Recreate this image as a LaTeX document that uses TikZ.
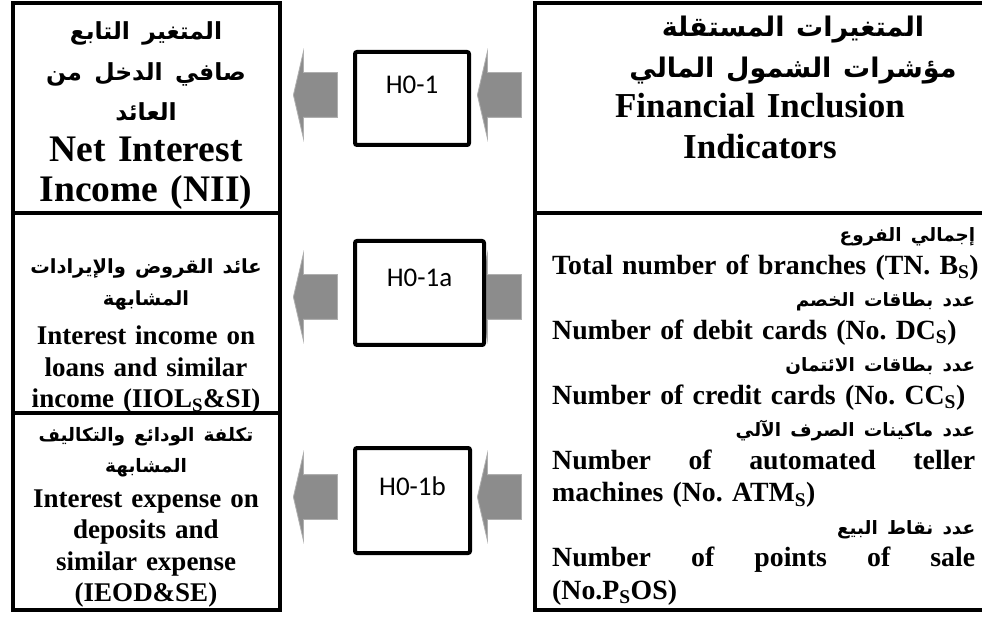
\documentclass[tikz,border=0pt]{standalone}
\usepackage{fontspec}
\setmainfont{Liberation Serif}
\newfontfamily\arabicfont[Script=Arabic]{DejaVu Sans}
\newfontfamily\hfont{Carlito}
\TeXXeTstate=1
\usetikzlibrary{shapes.arrows}
\definecolor{arrowgray}{RGB}{140,140,140}
\definecolor{arrowedge}{RGB}{175,175,175}
\newcommand{\arsize}{20}
\newcommand{\artext}[1]{{\arabicfont\fontsize{\arsize}{12}\selectfont\beginR #1\endR}}

\begin{document}
\begin{tikzpicture}[x=1pt,y=-1pt,
  boxline/.style={line width=4pt},
  hbox/.style={draw,fill=white,line width=4pt,rounded corners=2pt,inner sep=0pt,anchor=north west,font=\hfont\fontsize{27}{30}\selectfont},
  blockarrow/.style={single arrow,shape border rotate=180,fill=arrowgray,draw=arrowedge,line width=0.8pt,inner sep=0pt,text height=22pt,text depth=22pt,minimum height=44pt,minimum width=86pt,single arrow head extend=21pt,single arrow tip angle=154,anchor=tip},
  bigtext/.style 2 args={font=\bfseries\frenchspacing\fontsize{#1}{40.5}\selectfont\renewcommand{\arsize}{#2},align=center,text width=420pt,inner sep=0pt,anchor=base},
  smalltext/.style={font=\bfseries\frenchspacing\fontsize{27}{31.5}\selectfont\renewcommand{\arsize}{#1},align=center,text width=260pt,inner sep=0pt,anchor=base}]
\useasboundingbox (0,0) rectangle (982,617);
\fill[white] (0,0) rectangle (982,617);

\draw[boxline] (13,3) rectangle (280,610);
\draw[boxline] (13,213) -- (280,213);
\draw[boxline] (13,413) -- (280,413);
\draw[boxline] (535,3) rectangle (1000,610);
\draw[boxline] (535,213) -- (1000,213);

\foreach \y/\r in {95/1,297/2,497/3}{
  \node[blockarrow] (out\r) at (293,\y) {};
  \node[blockarrow] (in\r) at (477,\y) {};
}

\node[hbox,minimum width=114pt,text height=42pt,text depth=51pt] (h1) at (353,50) {H0-1};
\node[hbox,minimum width=129pt,text height=46pt,text depth=58pt] (h1a) at (353,239) {H0-1a};
\node[hbox,minimum width=115pt,text height=47pt,text depth=58pt] (h1b) at (353,446) {H0-1b};

\node[bigtext={37.5}{23.5}] (dep) at (146,40) {\artext{المتغير التابع}\\ \artext{صافي الدخل من}\\ \artext{العائد}\\ Net Interest\\ Income (NII)};
\node[bigtext={35}{27}] (indep) at (760,37) {\hspace*{66pt}\artext{المتغيرات المستقلة}\\ \hspace*{66pt}\artext{مؤشرات الشمول المالي}\\ Financial Inclusion\\ Indicators};

\node[smalltext=19.5] (iiol) at (146,274) {\artext{عائد القروض والإيرادات}\\ \artext{المشابهة}\\[8pt] Interest income on\\ loans and similar\\ income (IIOL\textsubscript{S}\&SI)};
\node[smalltext=18.5] (ieod) at (146,441) {\artext{تكلفة الودائع والتكاليف}\\ \artext{المشابهة}\\[3pt] Interest expense on\\ deposits and\\ similar expense\\ (IEOD\&SE)};

\node[font=\bfseries\frenchspacing\fontsize{27.8}{32.5}\selectfont\renewcommand{\arsize}{18.4},align=left,text width=423pt,inner sep=0pt,anchor=base west] (ind) at (552,242) {\hfill\artext{إجمالي الفروع}\\
\mbox{Total number of branches (TN. B\textsubscript{S})}\\
\hfill\artext{عدد بطاقات الخصم}\\
\mbox{Number of debit cards (No. DC\textsubscript{S})}\\
\hfill\artext{عدد بطاقات الائتمان}\\
\mbox{Number of credit cards (No. CC\textsubscript{S})}\\
\hfill\artext{عدد ماكينات الصرف الآلي}\\
Number\hfill of\hfill automated\hfill teller\\
machines (No. ATM\textsubscript{S})\\
\hfill\artext{عدد نقاط البيع}\\
Number\hfill of\hfill points\hfill of\hfill sale\\
(No.P\textsubscript{S}OS)};
\end{tikzpicture}
\end{document}
